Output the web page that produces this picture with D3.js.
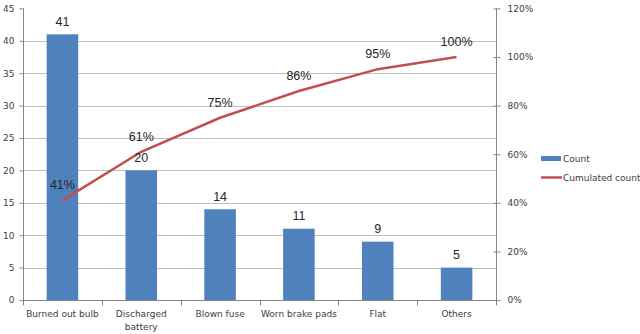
<!DOCTYPE html>
<html>
<head>
<meta charset="utf-8">
<script src="https://cdn.jsdelivr.net/npm/d3@7"></script>
<style>
  html, body { margin: 0; padding: 0; background: #fff; }
  svg { display: block; }
</style>
</head>
<body>
<svg id="chart" width="640" height="334"></svg>
<script>
// Pareto chart of breakdown causes
const categories = ["Burned out bulb", "Discharged battery", "Blown fuse", "Worn brake pads", "Flat", "Others"];
const counts = [41, 20, 14, 11, 9, 5];
const cumulated = [0.41, 0.61, 0.75, 0.86, 0.95, 1.00];
const countTicks = [0, 5, 10, 15, 20, 25, 30, 35, 40, 45];
const percentTicks = [0, 0.2, 0.4, 0.6, 0.8, 1.0, 1.2];
const seriesNames = ["Count", "Cumulated count"];

const barColor = "#4F81BD";
const lineColor = "#C0504D";
const axisColor = "#868686";
const gridColor = "#BEBEBE";
const textColor = "#404040";

const svg = d3.select("#chart");
const plotLeft = 23, plotRight = 496, plotTop = 8.4, plotBottom = 300;

const x = d3.scaleBand().domain(categories).range([plotLeft, plotRight]).paddingInner(0.6).paddingOuter(0.3);
const xc = d => x(d) + x.bandwidth() / 2;
const y = d3.scaleLinear().domain([0, 45]).range([plotBottom, plotTop]);
const y2 = d3.scaleLinear().domain([0, 1.2]).range([plotBottom, plotTop]);

// horizontal gridlines
svg.append("g").selectAll("line")
  .data(countTicks.filter(t => t > 0 && t < 45))
  .join("line")
  .attr("x1", plotLeft).attr("x2", plotRight)
  .attr("y1", d => Math.round(y(d)) + 0.5).attr("y2", d => Math.round(y(d)) + 0.5)
  .attr("stroke", gridColor).attr("stroke-width", 1);

// bars
svg.append("g").selectAll("rect")
  .data(counts)
  .join("rect")
  .attr("x", (d, i) => x(categories[i]))
  .attr("width", x.bandwidth())
  .attr("y", d => y(d))
  .attr("height", d => plotBottom - y(d))
  .attr("fill", barColor);

// left axis
const gL = svg.append("g").attr("transform", `translate(${plotLeft + 0.5},0)`)
  .call(d3.axisLeft(y).tickValues(countTicks).tickSize(4).tickPadding(5));
// right axis
const gR = svg.append("g").attr("transform", `translate(${plotRight + 0.5},0)`)
  .call(d3.axisRight(y2).tickValues(percentTicks).tickFormat(d3.format(".0%")).tickSize(4).tickPadding(7));
gR.selectAll(".tick line").attr("x1", -3);
[gL, gR].forEach(g => {
  g.select(".domain").remove();
  g.selectAll(".tick line").attr("stroke", axisColor);
  g.selectAll("text").attr("fill", textColor).style("font-family", "DejaVu Sans, Verdana, sans-serif").style("font-size", "9px");
});
svg.append("line").attr("x1", plotLeft + 0.5).attr("x2", plotLeft + 0.5).attr("y1", plotTop).attr("y2", plotBottom + 0.5).attr("stroke", axisColor);
svg.append("line").attr("x1", plotRight + 0.5).attr("x2", plotRight + 0.5).attr("y1", plotTop).attr("y2", plotBottom + 0.5).attr("stroke", axisColor);

// bottom axis with ticks at category boundaries
const gB = svg.append("g").attr("transform", `translate(0,${plotBottom + 0.5})`);
gB.append("line").attr("x1", plotLeft).attr("x2", plotRight).attr("stroke", axisColor);
const boundary = i => Math.round(plotLeft + i * (plotRight - plotLeft) / categories.length) + 0.5;
gB.selectAll("line.tk").data(d3.range(categories.length + 1)).join("line")
  .attr("class", "tk")
  .attr("x1", boundary).attr("x2", boundary)
  .attr("y1", 0).attr("y2", 5).attr("stroke", axisColor);

// category labels (long ones wrap onto two lines)
const catLabels = svg.append("g").selectAll("text")
  .data(categories)
  .join("text")
  .attr("x", d => xc(d))
  .attr("y", 317)
  .attr("text-anchor", "middle")
  .attr("fill", textColor)
  .style("font-family", "DejaVu Sans, Verdana, sans-serif")
  .style("font-size", "9px");
catLabels.each(function(d) {
  const t = d3.select(this);
  const lines = d === "Discharged battery" ? ["Discharged", "battery"] : [d];
  lines.forEach((ln, k) => t.append("tspan").attr("x", xc(d)).attr("dy", k === 0 ? 0 : 13).text(ln));
});

// cumulative line
const line = d3.line().x((d, i) => xc(categories[i])).y(d => y2(d));
svg.append("path")
  .datum(cumulated)
  .attr("d", line)
  .attr("fill", "none")
  .attr("stroke", lineColor)
  .attr("stroke-width", 2.5);

// value labels
const labelFont = "Liberation Sans, Arial, sans-serif";
svg.append("g").selectAll("text")
  .data(counts)
  .join("text")
  .attr("x", (d, i) => xc(categories[i]))
  .attr("y", d => y(d) - 8.5)
  .attr("text-anchor", "middle")
  .attr("fill", "#262626")
  .style("font-family", labelFont)
  .style("font-size", "12.5px")
  .text(d => d);

svg.append("g").selectAll("text")
  .data(cumulated)
  .join("text")
  .attr("x", (d, i) => xc(categories[i]))
  .attr("y", d => y2(d) - 11)
  .attr("text-anchor", "middle")
  .attr("fill", "#262626")
  .style("font-family", labelFont)
  .style("font-size", "12.5px")
  .text(d => d3.format(".0%")(d));

// legend
const lg = svg.append("g").attr("transform", "translate(541,0)");
lg.append("rect").attr("x", 0).attr("y", 156).attr("width", 20).attr("height", 5).attr("fill", barColor);
lg.append("line").attr("x1", 0).attr("x2", 21).attr("y1", 177.5).attr("y2", 177.5).attr("stroke", lineColor).attr("stroke-width", 2.5);
lg.selectAll("text").data(seriesNames).join("text")
  .attr("x", 22)
  .attr("y", (d, i) => 162 + i * 19)
  .attr("fill", textColor)
  .style("font-family", "DejaVu Sans, Verdana, sans-serif")
  .style("font-size", "9px")
  .text(d => d);
</script>
</body>
</html>
